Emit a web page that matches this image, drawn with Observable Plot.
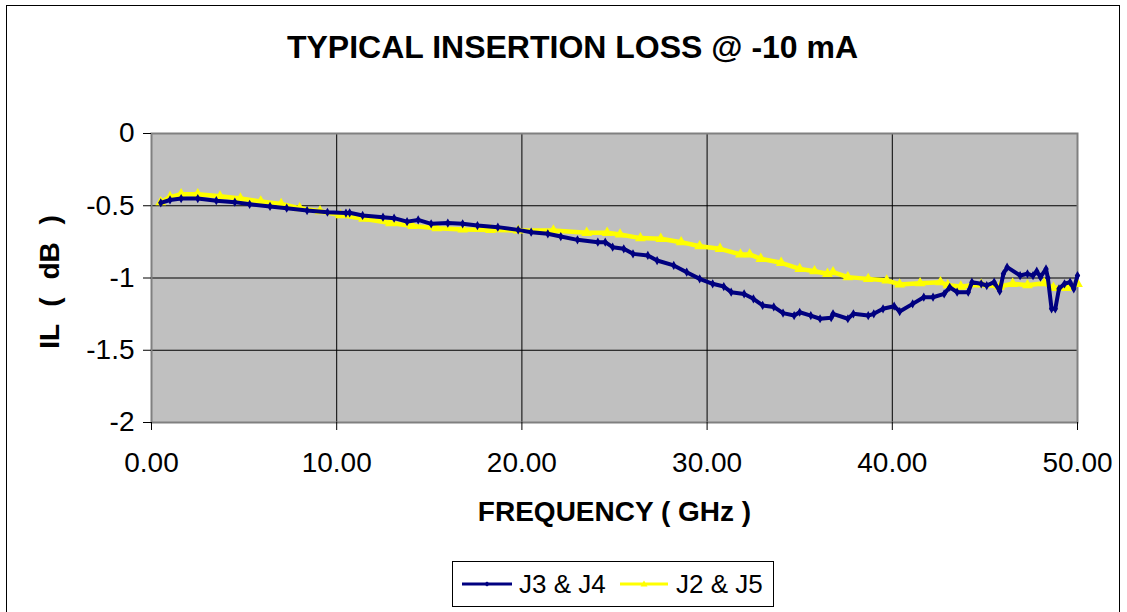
<!DOCTYPE html>
<html>
<head>
<meta charset="utf-8">
<script src="https://cdn.jsdelivr.net/npm/d3@7"></script>
<script src="https://cdn.jsdelivr.net/npm/@observablehq/plot@0.6"></script>
<style>
  html, body { margin: 0; padding: 0; background: #fff; overflow: hidden; }
  #wrap { position: relative; width: 1127px; height: 612px; overflow: hidden; font-family: "Liberation Sans", Arial, sans-serif; }
  #border { position: absolute; left: 6px; top: 5px; width: 1114px; height: 700px; border: 1px solid #000; box-sizing: border-box; }
  #chart { position: absolute; left: 0; top: 0; }
  #legend { position: absolute; left: 452px; top: 561px; width: 322px; height: 46px; border: 1px solid #000; box-sizing: border-box; background: #fff; font-size: 26px; color: #000; }
  .sw { position: absolute; top: 18px; line-height: 0; height: 8px; }
  .sw svg { display: block; }
  .lt { position: absolute; top: 7px; line-height: 30px; white-space: nowrap; }
</style>
</head>
<body>
<div id="wrap">
  <div id="border"></div>
  <div id="chart"></div>
  <div id="legend"></div>
</div>
<script>
// ---- Data ----
const titleText = "TYPICAL INSERTION LOSS @ -10 mA";
const xLabel = "FREQUENCY ( GHz )";
const yLabel = "IL ( dB )";
const seriesNames = ["J3 & J4", "J2 & J5"];
const seriesColors = ["#000080", "#FFFF00"];
const xTicks = [0, 10, 20, 30, 40, 50];
const yTicks = [0, -0.5, -1, -1.5, -2];
const xGrid = [10, 20, 30, 40];
const yGrid = [-0.5, -1, -1.5];

const freqJ34 = [0.5, 1.0, 1.6, 2.5, 3.5, 4.5, 5.3, 6.4, 7.3, 8.4, 9.5, 10.5, 10.7, 11.4, 12.5, 13.1, 13.8, 14.4, 15.1, 16.0, 16.8, 17.6, 18.7, 19.8, 20.5, 21.4, 22.1, 23.0, 24.1, 24.5, 24.9, 25.5, 26.0, 26.8, 27.3, 28.2, 28.9, 29.6, 30.3, 30.9, 31.3, 32.0, 32.5, 33.0, 33.6, 34.1, 34.7, 35.0, 35.6, 36.1, 36.7, 36.8, 37.6, 37.9, 38.7, 39.0, 39.5, 40.1, 40.4, 41.1, 41.7, 42.2, 42.8, 43.1, 43.5, 44.1, 44.3, 44.8, 45.1, 45.5, 45.8, 46.0, 46.2, 46.9, 47.3, 47.6, 47.8, 48.0, 48.3, 48.4, 48.6, 48.8, 49.0, 49.3, 49.6, 49.8, 50.0];
const ilJ34 = [-0.48, -0.46, -0.45, -0.45, -0.465, -0.475, -0.49, -0.505, -0.517, -0.533, -0.545, -0.551, -0.549, -0.567, -0.579, -0.586, -0.61, -0.598, -0.625, -0.62, -0.625, -0.637, -0.648, -0.667, -0.683, -0.694, -0.713, -0.736, -0.752, -0.752, -0.787, -0.798, -0.833, -0.844, -0.879, -0.913, -0.96, -1.006, -1.04, -1.059, -1.098, -1.11, -1.144, -1.19, -1.2, -1.243, -1.26, -1.237, -1.26, -1.282, -1.275, -1.248, -1.282, -1.248, -1.26, -1.248, -1.213, -1.195, -1.232, -1.179, -1.133, -1.133, -1.11, -1.064, -1.098, -1.098, -1.029, -1.04, -1.052, -1.029, -1.091, -0.971, -0.925, -0.983, -0.971, -0.983, -0.953, -0.994, -0.937, -1.0, -1.213, -1.213, -1.075, -1.04, -1.029, -1.075, -0.983];

const freqJ25 = [0.5, 1.0, 1.6, 2.5, 3.7, 4.8, 5.9, 7.0, 8.0, 9.1, 10.2, 11.45, 12.9, 14.1, 15.4, 16.8, 18.3, 19.8, 21.7, 23.5, 24.6, 25.3, 26.4, 27.5, 28.6, 29.6, 30.7, 31.8, 32.3, 32.9, 34.0, 35.0, 35.8, 36.5, 36.8, 37.6, 38.7, 39.7, 40.4, 41.5, 42.6, 43.0, 43.7, 44.8, 45.8, 46.5, 47.3, 48.2, 48.7, 49.4, 50.0];
const ilJ25 = [-0.475, -0.44, -0.42, -0.42, -0.435, -0.45, -0.47, -0.487, -0.517, -0.538, -0.565, -0.59, -0.62, -0.64, -0.655, -0.664, -0.667, -0.671, -0.671, -0.687, -0.687, -0.699, -0.724, -0.729, -0.752, -0.78, -0.798, -0.837, -0.837, -0.867, -0.895, -0.937, -0.953, -0.971, -0.96, -0.994, -1.006, -1.017, -1.045, -1.036, -1.029, -1.05, -1.059, -1.045, -1.059, -1.04, -1.05, -1.036, -1.068, -1.068, -1.04];

// ---- Build table ----
const rows = [
  ...freqJ34.map((f, i) => ({series: seriesNames[0], f, il: ilJ34[i]})),
  ...freqJ25.map((f, i) => ({series: seriesNames[1], f, il: ilJ25[i]}))
];
const rowsJ34 = rows.filter(d => d.series === seriesNames[0]);
const rowsJ25 = rows.filter(d => d.series === seriesNames[1]);

const FONT = "Liberation Sans, Arial, sans-serif";
const W = 1127, H = 612;
const mL = 151, mR = 50, mT = 133, mB = 190;
const fmtY = d => (d === 0 ? "0" : String(d)).replace("\u2212", "-");

const chart = Plot.plot({
  width: W,
  height: H,
  marginLeft: mL,
  marginRight: mR,
  marginTop: mT,
  marginBottom: mB,
  style: {fontFamily: FONT, fontSize: "28px", color: "#000", background: "transparent", overflow: "visible"},
  x: {domain: [0, 50]},
  y: {domain: [-2, 0]},
  color: {domain: seriesNames, range: seriesColors},
  marks: [
    Plot.frame({fill: "#C0C0C0", stroke: null}),
    Plot.ruleX(xGrid, {stroke: "#000", strokeWidth: 1}),
    Plot.ruleY(yGrid, {stroke: "#000", strokeWidth: 1}),
    Plot.frame({stroke: "#808080", strokeWidth: 2}),
    Plot.line(rowsJ25, {x: "f", y: "il", stroke: seriesColors[1], strokeWidth: 4.5, curve: "linear"}),
    Plot.dot(rowsJ25, {x: "f", y: "il", symbol: "triangle", r: 4, fill: seriesColors[1], stroke: null}),
    Plot.line(rowsJ34, {x: "f", y: "il", stroke: seriesColors[0], strokeWidth: 4, curve: "linear"}),
    Plot.dot(rowsJ34, {x: "f", y: "il", symbol: "diamond", r: 2.8, fill: seriesColors[0], stroke: null}),
    Plot.axisX({ticks: xTicks, tickFormat: d => d.toFixed(2), tickSize: 8, tickPadding: 22, fontSize: 28, label: null, stroke: "#000"}),
    Plot.axisY({ticks: yTicks, tickFormat: fmtY, tickSize: 8, tickPadding: 9, fontSize: 28, label: null, stroke: "#000"}),
    Plot.text([titleText], {frameAnchor: "top", dx: -42, dy: -86, lineAnchor: "middle", fontSize: 32, fontWeight: "bold", fill: "#000"}),
    Plot.text([xLabel], {frameAnchor: "bottom", dx: 0, dy: 90, lineAnchor: "middle", fontSize: 28, fontWeight: "bold", fill: "#000"}),
    Plot.text([yLabel], {frameAnchor: "left", dx: -101, dy: 4, rotate: -90, textAnchor: "middle", lineAnchor: "middle", fontSize: 28, fontWeight: "bold", fill: "#000", className: "ylab"})
  ]
});
chart.querySelectorAll(".ylab text").forEach(t => t.style.wordSpacing = "10px");
document.getElementById("chart").appendChild(chart);

// ---- Legend ----
const legend = document.getElementById("legend");
const swLeft = [9, 167], swWidth = [50, 48], txtLeft = [66, 223];
seriesNames.forEach((name, i) => {
  const c = swWidth[i] / 2;
  const sym = i === 0
    ? `<path d="M${c} 1.5 L${c+3} 4 L${c} 6.5 L${c-3} 4 Z" fill="${seriesColors[i]}"/>`
    : `<path d="M${c} 0.5 L${c+3.5} 6.5 L${c-3.5} 6.5 Z" fill="${seriesColors[i]}"/>`;
  const sw = document.createElement("div");
  sw.className = "sw";
  sw.style.left = swLeft[i] + "px";
  sw.innerHTML = `<svg width="${swWidth[i]}" height="8"><line x1="0" y1="4" x2="${swWidth[i]}" y2="4" stroke="${seriesColors[i]}" stroke-width="3"/>${sym}</svg>`;
  legend.appendChild(sw);
  const tx = document.createElement("div");
  tx.className = "lt";
  tx.style.left = txtLeft[i] + "px";
  tx.textContent = name;
  legend.appendChild(tx);
});
</script>
</body>
</html>
